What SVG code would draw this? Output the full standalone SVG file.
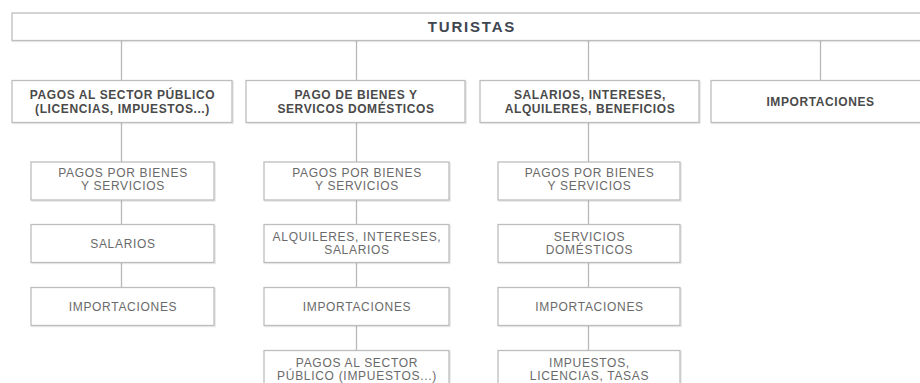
<svg xmlns="http://www.w3.org/2000/svg" width="920" height="383" viewBox="0 0 920 383">
<defs>
<filter id="sh" x="-5%" y="-10%" width="110%" height="130%">
<feDropShadow dx="1" dy="1" stdDeviation="0.6" flood-color="#000" flood-opacity="0.12"/>
</filter>
</defs>
<style>
.box{fill:#fff;stroke:#bdbdbd;stroke-width:1.3;filter:url(#sh)}
.ln{stroke:#b8b8b8;stroke-width:1.3;fill:none}
text{font-family:"Liberation Sans",Arial,sans-serif;text-anchor:middle}
.t0{font-size:15px;font-weight:bold;fill:#3f4650;letter-spacing:1.8px}
.t1{font-size:12px;font-weight:bold;fill:#4a4a4a;letter-spacing:0.6px}
.t2{font-size:12px;fill:#6a6a6a;letter-spacing:0.7px}
</style>
<rect width="920" height="383" fill="#fff"/>
<g id="connectors">
<path class="ln" d="M121.5 40.5V80.5M356.5 40.5V80.5M588.5 40.5V80.5M820.5 40.5V80.5"/>
<path class="ln" d="M121.5 122.5V287.5M356.5 122.5V350.5M588.5 122.5V350.5"/>
</g>
<g id="turistas"><rect class="box" x="12" y="13" width="930" height="27.5"/><text class="t0" x="472" y="31.5">TURISTAS</text></g>
<g id="n1"><rect class="box" x="12" y="80.5" width="220" height="42"/><text class="t1" x="122.5" y="99">PAGOS AL SECTOR PÚBLICO</text><text class="t1" x="122.5" y="112.5">(LICENCIAS, IMPUESTOS...)</text></g>
<g id="n2"><rect class="box" x="246" y="80.5" width="219" height="42"/><text class="t1" x="356" y="99">PAGO DE BIENES Y</text><text class="t1" x="356" y="112.5">SERVICOS DOMÉSTICOS</text></g>
<g id="n3"><rect class="box" x="480" y="80.5" width="219" height="42"/><text class="t1" x="590" y="99">SALARIOS, INTERESES,</text><text class="t1" x="590" y="112.5">ALQUILERES, BENEFICIOS</text></g>
<g id="n4"><rect class="box" x="711" y="80.5" width="230" height="42"/><text class="t1" x="820.5" y="105.5">IMPORTACIONES</text></g>
<g id="c1r1"><rect class="box" x="31" y="162" width="183" height="38"/><text class="t2" x="123" y="176.5">PAGOS POR BIENES</text><text class="t2" x="123" y="189.5">Y SERVICIOS</text></g>
<g id="c1r2"><rect class="box" x="31" y="224.5" width="183" height="38"/><text class="t2" x="123" y="247.5">SALARIOS</text></g>
<g id="c1r3"><rect class="box" x="31" y="287.5" width="183" height="38"/><text class="t2" x="123" y="310.5">IMPORTACIONES</text></g>
<g id="c2r1"><rect class="box" x="264" y="162" width="185" height="38"/><text class="t2" x="357" y="176.5">PAGOS POR BIENES</text><text class="t2" x="357" y="189.5">Y SERVICIOS</text></g>
<g id="c2r2"><rect class="box" x="264" y="224.5" width="185" height="38"/><text class="t2" x="357" y="240.5">ALQUILERES, INTERESES,</text><text class="t2" x="357" y="253.5">SALARIOS</text></g>
<g id="c2r3"><rect class="box" x="264" y="287.5" width="185" height="38"/><text class="t2" x="357" y="310.5">IMPORTACIONES</text></g>
<g id="c2r4"><rect class="box" x="264" y="350.5" width="185" height="45"/><text class="t2" x="357" y="367">PAGOS AL SECTOR</text><text class="t2" x="357" y="380">PÚBLICO (IMPUESTOS...)</text></g>
<g id="c3r1"><rect class="box" x="498" y="162" width="182" height="38"/><text class="t2" x="589.5" y="176.5">PAGOS POR BIENES</text><text class="t2" x="589.5" y="189.5">Y SERVICIOS</text></g>
<g id="c3r2"><rect class="box" x="498" y="224.5" width="182" height="38"/><text class="t2" x="589.5" y="240.5">SERVICIOS</text><text class="t2" x="589.5" y="253.5">DOMÉSTICOS</text></g>
<g id="c3r3"><rect class="box" x="498" y="287.5" width="182" height="38"/><text class="t2" x="589.5" y="310.5">IMPORTACIONES</text></g>
<g id="c3r4"><rect class="box" x="498" y="350.5" width="182" height="45"/><text class="t2" x="589.5" y="367">IMPUESTOS,</text><text class="t2" x="589.5" y="380">LICENCIAS, TASAS</text></g>
</svg>
